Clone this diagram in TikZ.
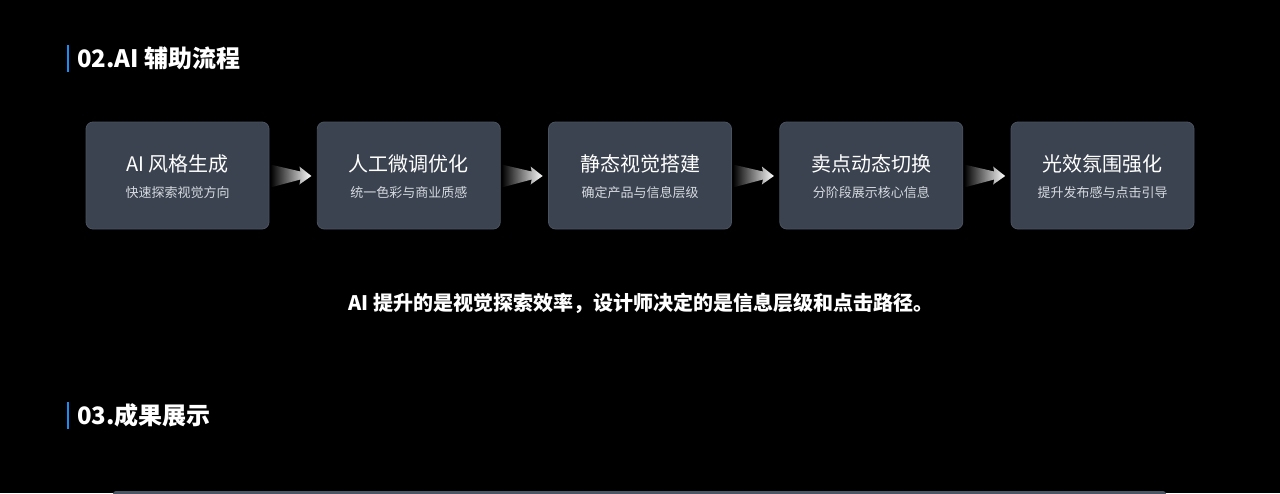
\documentclass[tikz,border=0pt]{standalone}
\usepackage{fontspec}
\setmainfont{Noto Sans CJK SC}
\usetikzlibrary{calc}
\definecolor{boxfill}{HTML}{3B4350}
\definecolor{boxline}{HTML}{4A525F}
\definecolor{accent}{HTML}{1E8CF0}
\definecolor{subtxt}{HTML}{D6DAE0}
\definecolor{bottomline}{HTML}{4C5563}
\tikzset{
  stagebox/.style={fill=boxfill, draw=boxline, line width=0.8pt, rounded corners=7pt,
    minimum width=183pt, minimum height=107pt, inner sep=0pt},
  stagetitle/.style={text=white, inner sep=0pt, font=\fontsize{20}{24}\selectfont},
  stagesub/.style={text=subtxt, inner sep=0pt, font=\fontsize{13}{16}\selectfont},
  sectitle/.style={text=white, inner sep=0pt, anchor=west, font=\fontsize{24}{28}\selectfont\bfseries},
}
\begin{document}
\begin{tikzpicture}[x=1pt,y=-1pt]
\fill[black] (0,0) rectangle (1280,493);
\useasboundingbox (0,0) rectangle (1280,493);

% section 02 title
\fill[accent] (67,45) rectangle (69,72);
\node[sectitle] (t02) at (77,58.5) {02.AI 辅助流程};

% stage boxes
\foreach \i/\ttl/\sub in {1/AI 风格生成/快速探索视觉方向,
                          2/人工微调优化/统一色彩与商业质感,
                          3/静态视觉搭建/确定产品与信息层级,
                          4/卖点动态切换/分阶段展示核心信息,
                          5/光效氛围强化/提升发布感与点击引导}{
  \node[stagebox] (b\i) at ({177.5+231.25*(\i-1)},175.5) {};
  \node[stagetitle] (bt\i) at ($(b\i.center)+(0,-11.5)$) {\ttl};
  \node[stagesub] (bs\i) at ($(b\i.center)+(0,17.5)$) {\sub};
}

% gradient arrows
\foreach \i in {1,2,3,4}{
  \shade[left color=black, right color=white]
    ($(b\i.east)+(1,-11)$) -- ($(b\i.east)+(31,-4)$) -- ($(b\i.east)+(30,-9)$)
    -- ($(b\i.east)+(42,0.5)$) -- ($(b\i.east)+(30,9)$) -- ($(b\i.east)+(31,4)$)
    -- ($(b\i.east)+(1,12)$) -- cycle;
}

% summary sentence
\node[text=white, inner sep=0pt, font=\fontsize{20}{24}\selectfont\bfseries] (summary) at (641,303)
  {AI 提升的是视觉探索效率，设计师决定的是信息层级和点击路径。};

% section 03 title
\fill[accent] (67,402) rectangle (69,429);
\node[sectitle] (t03) at (77,415.5) {03.成果展示};

% top edge of the next panel
\fill[bottomline, rounded corners=3pt] (113,491) rectangle (1166,500);
\end{tikzpicture}
\end{document}
